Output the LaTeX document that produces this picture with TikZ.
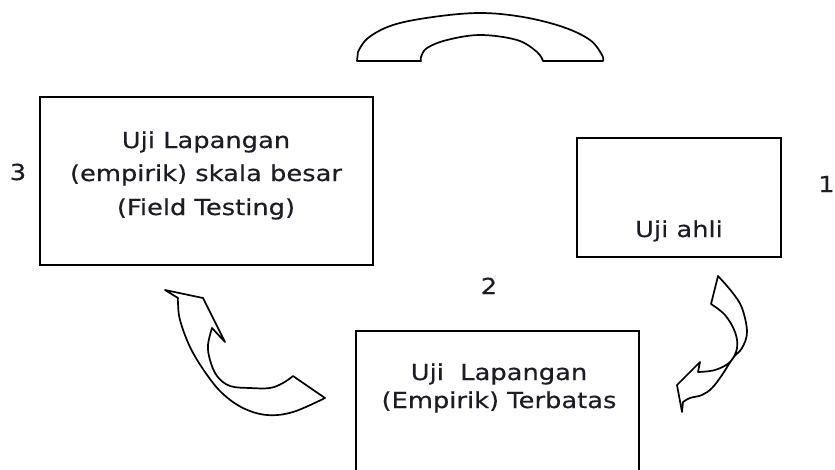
\documentclass[tikz,border=0pt]{standalone}
\usepackage{fontspec}
\newfontfamily\lblfont{DejaVu Sans}[FakeStretch=1.17, FakeBold=0.4]
\definecolor{txtc}{RGB}{28,28,38}
\begin{document}
\begin{tikzpicture}[x=1pt,y=-1pt,
  boxst/.style={draw=black, line width=2pt, rectangle, inner sep=0pt},
  txt/.style={anchor=base, inner sep=0pt, text=txtc, font=\lblfont\fontsize{22}{26}\selectfont},
  shapest/.style={draw=black, line width=1.7pt, fill=white, line join=round}]
\useasboundingbox (0,0) rectangle (835,469);
% boxes
\node[boxst, minimum width=333pt, minimum height=168pt] (b3) at (206.5,181) {};
\node[boxst, minimum width=204pt, minimum height=119pt] (b1) at (679,197.5) {};
\node[boxst, minimum width=283pt, minimum height=169pt] (b2) at (497.5,415.5) {};
% texts
\node[txt] (t3a) at (206,148) {Uji Lapangan};
\node[txt] (t3b) at (206,181) {(empirik) skala besar};
\node[txt] (t3c) at (206,215) {(Field Testing)};
\node[txt] (t1a) at (679,237) {Uji ahli};
\node[txt] (t2a) at (499,380) {Uji\ \ Lapangan};
\node[txt] (t2b) at (499,408) {(Empirik) Terbatas};
% numbers
\node[txt] (n3) at (18,180) {3};
\node[txt, anchor=base west] (n1) at (818,192) {1};
\node[txt] (n2) at (489,294) {2};
% top arc
\draw[shapest] (357,61) -- plot[smooth, tension=0.6] coordinates {(358,52) (368,38) (393,25) (433,17) (480,13) (523,17) (563,27) (590,40) (602,55) (603,61)}
  -- (543,61) -- plot[smooth, tension=0.6] coordinates {(543,61) (537,52) (517,40) (480,35) (447,40) (427,48) (421,57) (421,61)} -- cycle;
% left arrow
\draw[shapest] (165,290) -- (203,298) -- (225,342) -- (212,328)
  -- plot[smooth, tension=0.6] coordinates {(212,328) (208,345) (210,360) (217,376) (230,386) (250,388) (270,388) (283,383) (293,376)}
  -- (325,398)
  -- plot[smooth, tension=0.6] coordinates {(325,398) (293,412) (267,415) (243,408) (222,393) (205,372) (190,347) (180,320) (178,303) (178,298)} -- cycle;
% right arrow
\draw[shapest] (718,276) -- plot[smooth, tension=0.6] coordinates {(718,276) (732,292) (742,308) (747,332) (742,348) (733,358) (722,375) (712,388) (702,395) (690,398) (683,402)}
  -- (682,412) -- (677,385) -- (700,362) -- (698,372)
  -- plot[smooth, tension=0.6] coordinates {(698,372) (715,370) (730,362) (737,348) (735,332) (725,315) (711,304)} -- cycle;
\end{tikzpicture}
\end{document}
